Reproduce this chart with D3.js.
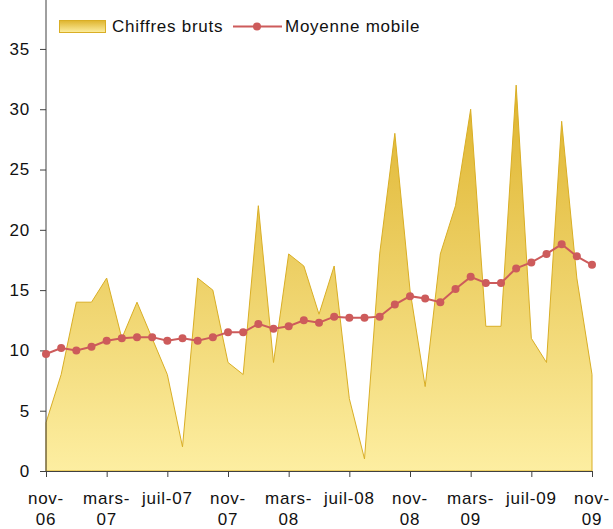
<!DOCTYPE html>
<html>
<head>
<meta charset="utf-8">
<script src="https://cdn.jsdelivr.net/npm/d3@7"></script>
<style>
  body { margin: 0; background: #fff; }
  svg { display: block; font-family: "Liberation Sans", Arial, sans-serif; }
  .lbl { font-size: 17px; letter-spacing: 0.75px; fill: #111; }
</style>
</head>
<body>
<svg width="613" height="529"></svg>
<script>
const months = ['nov-06','déc-06','janv-07','févr-07','mars-07','avr-07','mai-07','juin-07','juil-07','août-07','sept-07','oct-07',
  'nov-07','déc-07','janv-08','févr-08','mars-08','avr-08','mai-08','juin-08','juil-08','août-08','sept-08','oct-08',
  'nov-08','déc-08','janv-09','févr-09','mars-09','avr-09','mai-09','juin-09','juil-09','août-09','sept-09','oct-09','nov-09'];

const raw = [4, 8, 14, 14, 16, 11, 14, 11, 8, 2, 16, 15, 9, 8, 22, 9, 18, 17, 13, 17, 6, 1, 18, 28, 15, 7, 18, 22, 30, 12, 12, 32, 11, 9, 29, 16, 8];

const movingAvg = [9.7, 10.2, 10.0, 10.3, 10.8, 11.0, 11.1, 11.1, 10.8, 11.0, 10.8, 11.1, 11.5, 11.5, 12.2, 11.8, 12.0, 12.5, 12.3,
  12.8, 12.7, 12.7, 12.8, 13.8, 14.5, 14.3, 14.0, 15.1, 16.1, 15.6, 15.6, 16.8, 17.3, 18.0, 18.8, 17.8, 17.1];

// every 4th month gets a label, some wrap on two lines like in Excel
const tickLabels = [['nov-', '06'], ['mars-', '07'], ['juil-07'], ['nov-', '07'], ['mars-', '08'],
  ['juil-08'], ['nov-', '08'], ['mars-', '09'], ['juil-09'], ['nov-', '09']];
const yTicks = [0, 5, 10, 15, 20, 25, 30, 35];

const seriesNames = ['Chiffres bruts', 'Moyenne mobile'];

const svg = d3.select('svg');

const x = d3.scalePoint().domain(months).range([46, 592]);
const y = d3.scaleLinear().domain([0, 39]).range([471, 0.7]);

// gradient gold -> pale yellow
const defs = svg.append('defs');
const grad = defs.append('linearGradient')
  .attr('id', 'gold')
  .attr('x1', 0).attr('y1', 0).attr('x2', 0).attr('y2', 1);
grad.append('stop').attr('offset', '0%').attr('stop-color', '#dfb42d');
grad.append('stop').attr('offset', '45%').attr('stop-color', '#ecce62');
grad.append('stop').attr('offset', '100%').attr('stop-color', '#fdeea1');

const area = d3.area()
  .x((d, i) => x(months[i]))
  .y0(y(0))
  .y1(d => y(d));

svg.append('path')
  .datum(raw)
  .attr('d', area)
  .attr('fill', 'url(#gold)')
  .attr('stroke', '#d9ae25')
  .attr('stroke-width', 1);

// y axis
const yAxis = svg.append('g')
  .attr('transform', `translate(${x(months[0])},0)`)
  .call(d3.axisLeft(y).tickValues(yTicks).tickSize(6).tickPadding(10));
yAxis.select('.domain').remove();
yAxis.append('line')
  .attr('y1', y(0)).attr('y2', 0)
  .attr('stroke', '#404040');
yAxis.selectAll('.tick line').attr('stroke', '#404040');
yAxis.selectAll('.tick text')
  .attr('class', 'lbl')
  .attr('font-family', null).attr('font-size', null)
  .attr('fill', '#111');

// x axis
const tickMonths = months.filter((m, i) => i % 4 === 0);
const xAxis = svg.append('g')
  .attr('transform', `translate(0,${y(0)})`)
  .call(d3.axisBottom(x).tickValues(tickMonths).tickSize(6).tickFormat(''));
xAxis.select('.domain').attr('stroke', '#404040');
xAxis.selectAll('.tick line').attr('stroke', '#404040');
xAxis.selectAll('.tick text').remove();

svg.append('g').selectAll('text')
  .data(tickMonths)
  .join('text')
  .attr('class', 'lbl')
  .attr('text-anchor', 'middle')
  .attr('x', d => x(d))
  .attr('y', 504)
  .each(function(d, i) {
    d3.select(this).selectAll('tspan')
      .data(tickLabels[i])
      .join('tspan')
      .attr('x', x(d))
      .attr('dy', (t, j) => j === 0 ? 0 : 21)
      .text(t => t);
  });

// moving average
const line = d3.line()
  .x((d, i) => x(months[i]))
  .y(d => y(d));

svg.append('path')
  .datum(movingAvg)
  .attr('d', line)
  .attr('fill', 'none')
  .attr('stroke', '#cd5b5b')
  .attr('stroke-width', 2);

svg.append('g').selectAll('circle')
  .data(movingAvg)
  .join('circle')
  .attr('cx', (d, i) => x(months[i]))
  .attr('cy', d => y(d))
  .attr('r', 4)
  .attr('fill', '#cd5b5b');

// legend
const legend = svg.append('g');
legend.append('rect')
  .attr('x', 59.5).attr('y', 20.5)
  .attr('width', 46).attr('height', 12)
  .attr('fill', 'url(#gold)')
  .attr('stroke', '#d9ae25');
legend.append('text')
  .attr('class', 'lbl')
  .attr('x', 112).attr('y', 32)
  .text(seriesNames[0]);
legend.append('line')
  .attr('x1', 233).attr('x2', 282)
  .attr('y1', 26.5).attr('y2', 26.5)
  .attr('stroke', '#cd5b5b').attr('stroke-width', 2);
legend.append('circle')
  .attr('cx', 257).attr('cy', 26.5).attr('r', 4)
  .attr('fill', '#cd5b5b');
legend.append('text')
  .attr('class', 'lbl')
  .attr('x', 285).attr('y', 32)
  .text(seriesNames[1]);
</script>
</body>
</html>
